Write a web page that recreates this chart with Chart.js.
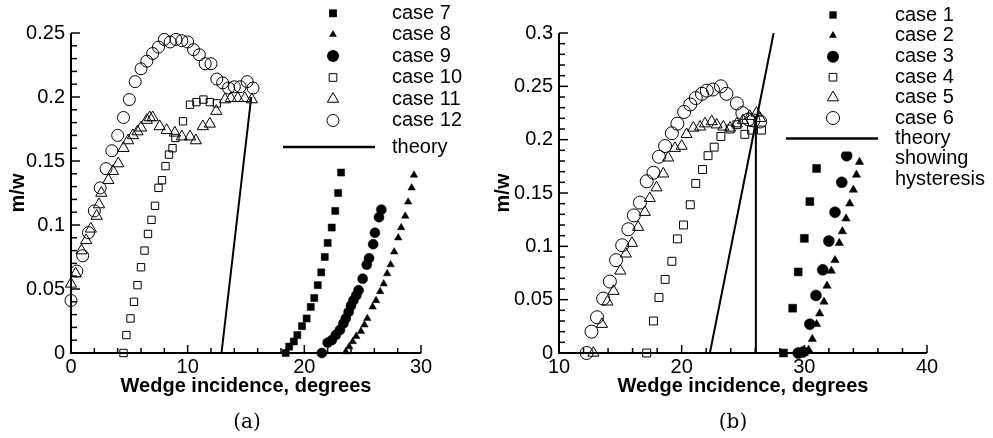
<!DOCTYPE html>
<html><head><meta charset="utf-8">
<script src="https://cdn.jsdelivr.net/npm/chart.js@4.4.1/dist/chart.umd.min.js"></script>
<style>
html,body{margin:0;padding:0;background:#fff;width:993px;height:438px;overflow:hidden;}
.box{position:absolute;top:0;height:438px;}
#wa{left:0;width:490px;}
#wb{left:490px;width:503px;}
.cap{position:absolute;top:409px;font-family:"DejaVu Serif","Liberation Serif",serif;font-size:20px;line-height:24px;transform:translateX(-50%);color:#000;}
</style></head><body>
<div class="box" id="wa"><canvas id="ca" width="490" height="438"></canvas></div>
<div class="box" id="wb"><canvas id="cb" width="503" height="438"></canvas></div>
<div class="cap" style="left:247px">(a)</div>
<div class="cap" style="left:733px">(b)</div>
<script>
// ---------- data: panel (a) ----------
const case7 = [[18.4,0],[18.7,0.005],[19.1,0.009],[19.4,0.014],[19.8,0.021],[20.2,0.027],[20.55,0.036],[20.85,0.043],[21.15,0.053],[21.45,0.063],[21.75,0.075],[22.0,0.086],[22.35,0.098],[22.65,0.111],[22.9,0.125],[23.15,0.141]];
const case8 = [[23.55,0.001],[23.85,0.005],[24.15,0.009],[24.45,0.013],[24.85,0.017],[25.15,0.022],[25.4,0.027],[25.85,0.036],[26.15,0.041],[26.5,0.048],[26.8,0.054],[27.1,0.062],[27.4,0.069],[27.7,0.079],[28.05,0.090],[28.3,0.098],[28.65,0.107],[28.9,0.118],[29.2,0.129],[29.4,0.139]];
const case9 = [[21.5,0],[22.0,0.008],[22.35,0.010],[22.7,0.014],[23.05,0.018],[23.35,0.023],[23.55,0.027],[23.8,0.032],[24.0,0.037],[24.2,0.041],[24.45,0.045],[24.65,0.049],[25.0,0.058],[25.35,0.069],[25.55,0.074],[25.9,0.085],[26.05,0.094],[26.4,0.106],[26.6,0.112]];
const case10 = [[4.5,0],[4.75,0.014],[5.1,0.027],[5.4,0.040],[5.7,0.053],[6.0,0.067],[6.3,0.080],[6.6,0.093],[6.9,0.104],[7.2,0.115],[7.5,0.129],[7.8,0.135],[8.1,0.146],[8.4,0.155],[8.7,0.160],[8.95,0.168],[9.6,0.181],[10.2,0.194],[10.75,0.196],[11.35,0.198],[11.9,0.196],[12.5,0.195]];
const case11 = [[0,0.054],[0.4,0.062],[0.9,0.080],[1.3,0.088],[1.7,0.097],[2.2,0.107],[2.4,0.116],[2.6,0.125],[3.2,0.135],[3.6,0.142],[4.05,0.148],[4.5,0.160],[4.9,0.166],[5.3,0.170],[5.7,0.173],[6.0,0.176],[6.5,0.182],[6.75,0.184],[7.0,0.184],[7.6,0.177],[8.2,0.174],[8.9,0.172],[9.5,0.169],[10.2,0.169],[10.7,0.166],[11.3,0.177],[11.9,0.179],[12.45,0.189],[13.2,0.198],[13.7,0.199],[14.3,0.199],[14.9,0.199],[15.5,0.198]];
const case12 = [[0,0.041],[0.5,0.064],[1.0,0.076],[1.5,0.094],[2.0,0.111],[2.5,0.129],[3.0,0.144],[3.5,0.158],[4.0,0.170],[4.5,0.184],[5.0,0.198],[5.5,0.212],[6.0,0.222],[6.5,0.228],[7.0,0.234],[7.5,0.239],[8.0,0.245],[8.5,0.243],[9.0,0.245],[9.5,0.244],[10.0,0.243],[10.5,0.237],[11.0,0.233],[11.5,0.226],[12.0,0.226],[12.5,0.214],[13.0,0.211],[13.5,0.207],[14.0,0.208],[14.5,0.208],[15.1,0.212],[15.6,0.207]];
const theoryA = [[12.9,0],[15.45,0.2]];

// ---------- data: panel (b) ----------
const case1 = [[28.3,0],[29.05,0.042],[29.5,0.076],[30.0,0.1075],[30.45,0.142],[31.0,0.173]];
const case2 = [[30.0,0],[30.35,0.003],[30.65,0.013],[31.0,0.027],[31.25,0.037],[31.6,0.048],[31.85,0.063],[32.2,0.077],[32.5,0.087],[32.85,0.103],[33.1,0.114],[33.4,0.126],[33.7,0.140],[34.0,0.153],[34.25,0.167],[34.5,0.179]];
const case3 = [[29.5,0],[29.9,0.001],[30.45,0.027],[30.95,0.054],[31.5,0.078],[32.0,0.105],[32.5,0.132],[33.05,0.160],[33.45,0.185]];
const case4 = [[17.15,0],[17.7,0.030],[18.15,0.052],[18.65,0.069],[19.2,0.086],[19.65,0.107],[20.15,0.120],[20.7,0.139],[21.15,0.159],[21.7,0.172],[22.15,0.185],[22.65,0.193],[23.2,0.203],[23.95,0.210],[24.5,0.214],[25.15,0.205],[25.7,0.209],[26.5,0.209]];
const case5 = [[12.8,0],[13.5,0.027],[13.95,0.048],[14.45,0.058],[15.0,0.077],[15.45,0.093],[15.95,0.103],[16.45,0.118],[17.0,0.132],[17.4,0.145],[17.95,0.155],[18.5,0.168],[18.9,0.183],[19.45,0.192],[20.0,0.194],[20.4,0.205],[20.95,0.211],[21.5,0.212],[21.9,0.215],[22.45,0.217],[22.85,0.214],[23.4,0.212],[23.95,0.211],[24.5,0.215],[25.0,0.218],[25.55,0.222],[26.1,0.225],[26.4,0.220]];
const case6 = [[12.25,0],[12.65,0.020],[13.1,0.0335],[13.6,0.051],[14.15,0.067],[14.65,0.087],[15.15,0.101],[15.65,0.116],[16.1,0.129],[16.6,0.141],[17.15,0.161],[17.7,0.169],[18.15,0.184],[18.65,0.194],[19.2,0.206],[19.65,0.215],[20.2,0.226],[20.7,0.233],[21.15,0.239],[21.65,0.243],[22.05,0.246],[22.55,0.247],[23.2,0.250],[23.65,0.243],[24.5,0.234],[24.95,0.225],[25.45,0.219],[25.85,0.218],[26.4,0.217]];
const theoryB = [[22.3,0],[27.5,0.3]];
const theoryC = [[26.05,0],[26.05,0.222]];

// ---------- axes ----------
const aXTicks = [0,10,20,30];
const aYTicks = [0,0.05,0.1,0.15,0.2,0.25];
const bXTicks = [10,20,30,40];
const bYTicks = [0,0.05,0.1,0.15,0.2,0.25,0.3];
const xTitle = 'Wedge incidence, degrees';
const yTitle = 'm/w';
const aLabels = ['case 7','case 8','case 9','case 10','case 11','case 12','theory'];
const bLabels = ['case 1','case 2','case 3','case 4','case 5','case 6','theory','showing','hysteresis'];

const FONT = '"Liberation Sans", Arial, Helvetica, sans-serif';
const pts = a => a.map(p => ({x:p[0], y:p[1]}));
const OPEN = 'rgba(0,0,0,0)';

function scatterDs(label, arr, style, filled, r) {
  return {label, data: pts(arr), showLine:false, pointStyle:style, pointRadius:r, pointHoverRadius:r,
    pointBackgroundColor: filled ? '#000' : OPEN, pointBorderColor:'#000', pointBorderWidth: filled ? 0.5 : 1, clip:false};
}
function lineDs(label, arr) {
  return {label, data: pts(arr), showLine:true, borderColor:'#000', borderWidth:2, pointRadius:0, fill:false, clip:false};
}

function drawMarker(ctx, style, r, x, y, filled) {
  ctx.beginPath();
  if (style === 'circle') ctx.arc(x, y, r, 0, Math.PI*2);
  else if (style === 'rect') { const s = r*Math.SQRT1_2; ctx.rect(x-s, y-s, 2*s, 2*s); }
  else if (style === 'triangle') {
    ctx.moveTo(x, y - r);
    ctx.lineTo(x + r*Math.sin(Math.PI/3), y + r/2);
    ctx.lineTo(x - r*Math.sin(Math.PI/3), y + r/2);
    ctx.closePath();
  }
  if (filled) { ctx.fillStyle = '#000'; ctx.fill(); }
  else { ctx.strokeStyle = '#000'; ctx.lineWidth = 1; ctx.stroke(); }
}

const axisTicks = {
  id: 'axisTicks',
  beforeDatasetsDraw(chart, args, o) {
    const {ctx, chartArea: a} = chart;
    const x = chart.scales.x, y = chart.scales.y;
    ctx.save();
    ctx.strokeStyle = '#000';
    ctx.lineWidth = 2;
    ctx.beginPath();
    ctx.moveTo(a.left, a.top); ctx.lineTo(a.left, a.bottom); ctx.lineTo(a.right, a.bottom);
    ctx.stroke();
    ctx.lineWidth = 1.5;
    const line = (x1,y1,x2,y2) => { ctx.beginPath(); ctx.moveTo(x1,y1); ctx.lineTo(x2,y2); ctx.stroke(); };
    const isMaj = (v, step) => Math.abs(v/step - Math.round(v/step)) < 1e-6;
    let n = Math.round((x.max - x.min)/o.xMinor);
    for (let i = 0; i <= n; i++) {
      const v = x.min + i*o.xMinor, px = x.getPixelForValue(v);
      line(px, a.bottom, px, a.bottom - (isMaj(v, o.xMajor) ? 8 : 5));
    }
    n = Math.round((y.max - y.min)/o.yMinor);
    for (let i = 0; i <= n; i++) {
      const v = y.min + i*o.yMinor, py = y.getPixelForValue(v);
      line(a.left, py, a.left + (isMaj(v, o.yMajor) ? 9 : 6), py);
    }
    ctx.restore();
  }
};

const caseLegend = {
  id: 'caseLegend',
  afterDraw(chart, args, o) {
    const ctx = chart.ctx;
    ctx.save();
    ctx.fillStyle = '#fff';
    ctx.fillRect(o.box[0], o.box[1], o.box[2], o.box[3]);
    ctx.font = '20px ' + FONT;
    ctx.textBaseline = 'middle';
    ctx.textAlign = 'left';
    o.labels.forEach((lab, i) => {
      const yy = o.rows[i];
      const ds = chart.data.datasets[i];
      if (ds && i < o.labels.length && o.kinds[i] === 'p') {
        drawMarker(ctx, ds.pointStyle, o.sizes[i], o.markerX, yy, ds.pointBackgroundColor !== OPEN);
      } else if (o.kinds[i] === 'l') {
        ctx.strokeStyle = '#000'; ctx.lineWidth = 2.5;
        ctx.beginPath(); ctx.moveTo(o.lineX[0], yy); ctx.lineTo(o.lineX[1], yy); ctx.stroke();
      }
      ctx.fillStyle = '#000';
      ctx.fillText(lab, o.textX, yy);
    });
    ctx.restore();
  }
};

const fmt = v => String(+(+v).toFixed(2));

function makeChart(id, datasets, xr, yr, xT, yT, g, leg) {
  return new Chart(document.getElementById(id), {
    type: 'scatter',
    data: {datasets},
    plugins: [axisTicks, caseLegend],
    options: {
      responsive:false, animation:false, devicePixelRatio:1,
      layout: {padding: {left:0, top:33, right:g.padRight, bottom:0}},
      plugins: {legend:{display:false}, tooltip:{enabled:false},
        axisTicks: {xMinor:2, xMajor:10, yMinor:0.01, yMajor:0.05},
        caseLegend: leg},
      scales: {
        x: {type:'linear', min:xr[0], max:xr[1],
          afterBuildTicks: s => { s.ticks = xT.map(v => ({value:v})); },
          afterFit: s => { s.height = 85; },
          grid:{display:false, drawTicks:false}, border:{display:false},
          ticks:{color:'#000', font:{family:FONT, size:20}, padding:2, maxRotation:0, autoSkip:false, callback: v => fmt(v)},
          title:{display:true, text:xTitle, color:'#000', font:{family:FONT, size:20, weight:'bold'}, padding:{top:0, bottom:40}}
        },
        y: {type:'linear', min:yr[0], max:yr[1],
          afterBuildTicks: s => { s.ticks = yT.map(v => ({value:v})); },
          afterFit: s => { s.width = g.yWidth; },
          grid:{display:false, drawTicks:false}, border:{display:false},
          ticks:{color:'#000', font:{family:FONT, size:20}, padding:6, autoSkip:false, callback: v => fmt(v)},
          title:{display:true, text:yTitle, color:'#000', font:{family:FONT, size:20, weight:'bold'}, padding:{top:g.yTitlePad, bottom:0}}
        }
      }
    }
  });
}

makeChart('ca', [
  scatterDs(aLabels[0], case7, 'rect', true, 5),
  scatterDs(aLabels[1], case8, 'triangle', true, 4.3),
  scatterDs(aLabels[2], case9, 'circle', true, 5),
  scatterDs(aLabels[3], case10, 'rect', false, 5.2),
  scatterDs(aLabels[4], case11, 'triangle', false, 6.5),
  scatterDs(aLabels[5], case12, 'circle', false, 6),
  lineDs(aLabels[6], theoryA)
], [0,30], [0,0.25], aXTicks, aYTicks, {padRight:69, yWidth:71, yTitlePad:6}, {
  box:[278,0,212,158], markerX:333, textX:392, lineX:[283,375],
  rows:[13.3,34.5,56,77.5,99,120.5,147],
  kinds:['p','p','p','p','p','p','l'], sizes:[5.5,4.5,6,5.4,6.5,6],
  labels:aLabels
});

makeChart('cb', [
  scatterDs(bLabels[0], case1, 'rect', true, 5.6),
  scatterDs(bLabels[1], case2, 'triangle', true, 4.8),
  scatterDs(bLabels[2], case3, 'circle', true, 5.5),
  scatterDs(bLabels[3], case4, 'rect', false, 5.6),
  scatterDs(bLabels[4], case5, 'triangle', false, 6.4),
  scatterDs(bLabels[5], case6, 'circle', false, 6.5),
  lineDs(bLabels[6], theoryB),
  lineDs('theory (hysteresis)', theoryC)
], [10,40], [0,0.3], bXTicks, bYTicks, {padRight:66, yWidth:69, yTitlePad:1}, {
  box:[290,0,213,151.5], markerX:343, textX:405, lineX:[296,388],
  rows:[15,35.4,56.8,77.2,97.6,118,138.4,158.8,179.2],
  kinds:['p','p','p','p','p','p','l','t','t'], sizes:[5.2,4.5,6,5.4,6.5,6.5],
  labels:bLabels
});
</script>
</body></html>
